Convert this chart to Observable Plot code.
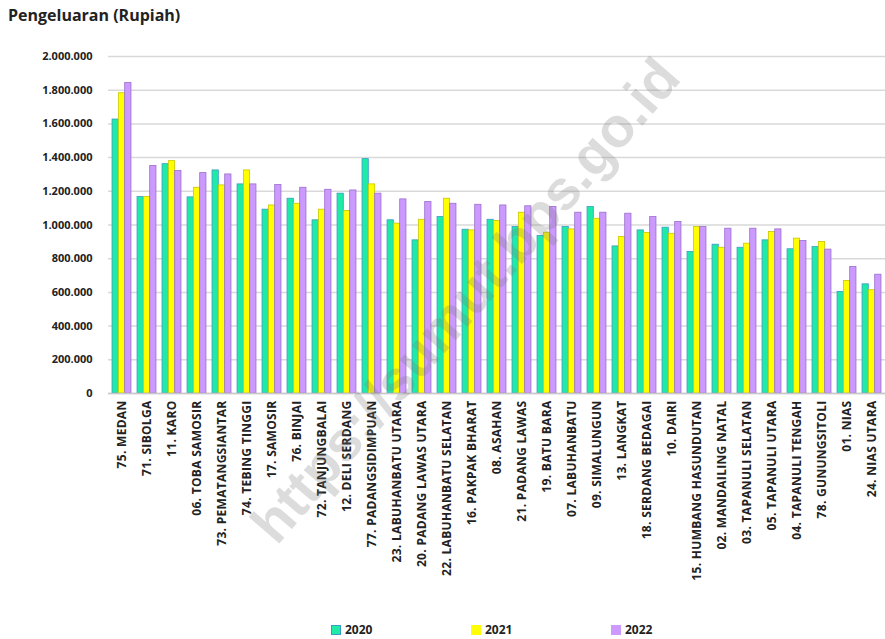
<!DOCTYPE html>
<html>
<head>
<meta charset="utf-8">
<script src="https://cdn.jsdelivr.net/npm/d3@7"></script>
<script src="https://cdn.jsdelivr.net/npm/@observablehq/plot@0.6"></script>
<style>
  html, body { margin: 0; padding: 0; background: #fff; }
  body { width: 885px; height: 639px; position: relative; overflow: hidden; font-family: "Open Sans", "Liberation Sans", sans-serif; }
  #title { position: absolute; left: 8px; top: 4px; font-size: 16px; font-weight: bold; color: #222; }
  #chart { position: absolute; left: 0; top: 35px; }
  #chart svg text { font-weight: bold; fill: #222; }
  #chart svg g[aria-label="x-axis tick label"] text { font-size: 12px; letter-spacing: 0.3px; }
  .leg { position: absolute; top: 621px; font-size: 12px; font-weight: bold; color: #222; display: flex; align-items: center; }
  .leg span.sw { display: inline-block; width: 10px; height: 10px; margin-right: 4px; box-sizing: border-box; }
  #wm { position: absolute; left: 465px; top: 300px; transform: translate(-50%, -50%) rotate(-49deg); font-size: 56px; font-weight: bold; color: rgba(120,120,120,0.26); white-space: nowrap; pointer-events: none; font-family: "Liberation Sans", sans-serif; }
</style>
</head>
<body>
<div id="title">Pengeluaran (Rupiah)</div>
<div id="chart"></div>
<div class="leg" style="left:331px"><span class="sw" style="background:#1EEBA5;border:1px solid #3A9BC8"></span>2020</div>
<div class="leg" style="left:471px"><span class="sw" style="background:#FFFF00"></span>2021</div>
<div class="leg" style="left:611px"><span class="sw" style="background:#CC99FF"></span>2022</div>
<div id="wm">https://sumut.bps.go.id</div>
<script>
const categories = [
  "75. MEDAN", "71. SIBOLGA", "11. KARO", "06. TOBA SAMOSIR", "73. PEMATANGSIANTAR",
  "74. TEBING TINGGI", "17. SAMOSIR", "76. BINJAI", "72. TANJUNGBALAI", "12. DELI SERDANG",
  "77. PADANGSIDIMPUAN", "23. LABUHANBATU UTARA", "20. PADANG LAWAS UTARA", "22. LABUHANBATU SELATAN", "16. PAKPAK BHARAT",
  "08. ASAHAN", "21. PADANG LAWAS", "19. BATU BARA", "07. LABUHANBATU", "09. SIMALUNGUN",
  "13. LANGKAT", "18. SERDANG BEDAGAI", "10. DAIRI", "15. HUMBANG HASUNDUTAN", "02. MANDAILING NATAL",
  "03. TAPANULI SELATAN", "05. TAPANULI UTARA", "04. TAPANULI TENGAH", "78. GUNUNGSITOLI", "01. NIAS",
  "24. NIAS UTARA"
];
const years = ["2020", "2021", "2022"];
const v2020 = [1626000, 1166000, 1361000, 1164000, 1324000, 1241000, 1091000, 1156000, 1028000, 1186000,
  1391000, 1028000, 909000, 1047000, 972000, 1031000, 988000, 935000, 988000, 1107000,
  873000, 968000, 984000, 840000, 883000, 865000, 909000, 856000, 869000, 603000, 648000];
const v2021 = [1782000, 1166000, 1379000, 1221000, 1235000, 1324000, 1116000, 1126000, 1091000, 1083000,
  1241000, 1008000, 1031000, 1156000, 968000, 1024000, 1073000, 954000, 974000, 1037000,
  929000, 952000, 948000, 988000, 865000, 889000, 958000, 919000, 899000, 668000, 613000];
const v2022 = [1843000, 1350000, 1320000, 1308000, 1300000, 1241000, 1237000, 1221000, 1209000, 1205000,
  1186000, 1152000, 1136000, 1126000, 1120000, 1116000, 1111000, 1107000, 1073000, 1073000,
  1067000, 1047000, 1018000, 988000, 978000, 978000, 974000, 905000, 854000, 751000, 705000];
const yTicks = [0, 200000, 400000, 600000, 800000, 1000000, 1200000, 1400000, 1600000, 1800000, 2000000];

const fills = ["#1EEBA5", "#FFFF00", "#CC99FF"];
const strokes = ["#3A9BC8", "#C8C800", "#9B6FCC"];
const series = [v2020, v2021, v2022];

const fmt = d3.formatLocale({decimal: ",", thousands: ".", grouping: [3], currency: ["", ""]}).format(",d");

const W = 885, mL = 108, mR = 0;
const bw = (W - mL - mR) / categories.length;
const groupW = 19;
const barW = groupW / 3;
const start = (bw - groupW) / 2;

const barMarks = series.map((vals, i) => {
  const rows = categories.map((c, j) => ({cat: c, year: years[i], value: vals[j]}));
  return Plot.barY(rows, {
    x: "cat", y: "value",
    fill: fills[i], stroke: strokes[i], strokeWidth: 0.8,
    insetLeft: start + i * barW,
    insetRight: bw - (start + (i + 1) * barW)
  });
});

const chart = Plot.plot({
  width: W,
  height: 563,
  marginTop: 21,
  marginBottom: 205,
  marginLeft: mL,
  marginRight: mR,
  style: {fontFamily: "'Open Sans', sans-serif", fontSize: "11px", background: "#fff"},
  x: {domain: categories, padding: 0, label: null, tickRotate: -90, tickSize: 0, tickPadding: 7},
  y: {domain: [0, 2000000], ticks: yTicks, tickFormat: fmt, label: null, tickSize: 0, tickPadding: 16},
  marks: [
    Plot.gridY(yTicks, {stroke: "#d9d9d9", strokeOpacity: 1, strokeWidth: 1.5}),
    ...barMarks,
    Plot.ruleY([0], {stroke: "#c8c8c8", strokeWidth: 1.5})
  ]
});
document.getElementById("chart").appendChild(chart);
</script>
</body>
</html>
